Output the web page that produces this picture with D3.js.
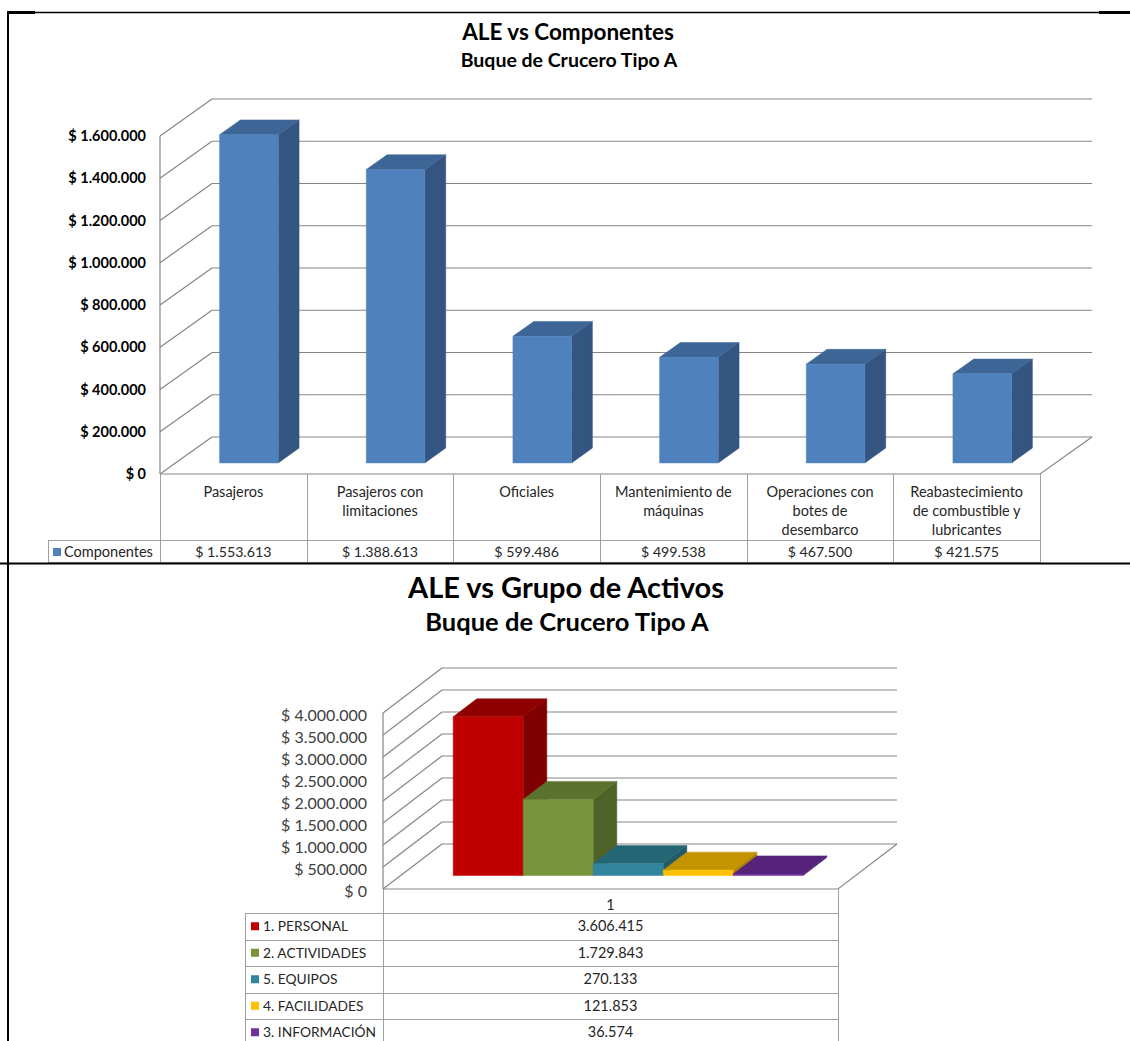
<!DOCTYPE html>
<html>
<head>
<meta charset="utf-8">
<script src="https://cdn.jsdelivr.net/npm/d3@7"></script>
<style>
  body { margin: 0; background: #fff; }
  svg { display: block; }
  text { font-family: Lato, "Open Sans", sans-serif; }
</style>
</head>
<body>
<svg id="page" width="1130" height="1041"></svg>
<script>
// ---- Chart 1: ALE por componente ----
const componentLabels = [
  ["Pasajeros"],
  ["Pasajeros con", "limitaciones"],
  ["Oficiales"],
  ["Mantenimiento de", "máquinas"],
  ["Operaciones con", "botes de", "desembarco"],
  ["Reabastecimiento", "de combustible y", "lubricantes"]
];
const componentValues = [1553613, 1388613, 599486, 499538, 467500, 421575];
const componentSeries = "Componentes";
const componentTicks = [0, 200000, 400000, 600000, 800000, 1000000, 1200000, 1400000, 1600000];

// ---- Chart 2: ALE por grupo de activos ----
const assetCategory = ["1"];
const assetGroups = ["1. PERSONAL", "2. ACTIVIDADES", "5. EQUIPOS", "4. FACILIDADES", "3. INFORMACIÓN"];
const assetValues = [3606415, 1729843, 270133, 121853, 36574];
const assetTicks = [0, 500000, 1000000, 1500000, 2000000, 2500000, 3000000, 3500000, 4000000];
const assetColors = [
  { front: "#c00000", side: "#7f0000", top: "#8f0000" },
  { front: "#77933c", side: "#4f6228", top: "#5b722f" },
  { front: "#31859c", side: "#215a69", top: "#256674" },
  { front: "#ffc000", side: "#b08400", top: "#c49300" },
  { front: "#7030a0", side: "#4b2070", top: "#55247a" }
];
const componentColor = { front: "#4f81bd", side: "#34557f", top: "#3d6596" };

const svg = d3.select("#page");
const es = d3.formatLocale({ decimal: ",", thousands: ".", grouping: [3], currency: ["$ ", ""] });
const money = es.format("$,.0f");
const plain = es.format(",.0f");

const GRID = "#868686";
const RULE = "#a0a0a0";
const INK = "#262626";
const NEAR = 0.3, FAR = 0.7;   // bar depth inside the floor

// oblique projection: front-plane x, value, depth (0 = front, 1 = back wall)
function projector(y, dx, dy) {
  return (xf, v, d) => [xf + d * dx, y(v) - d * dy];
}
const poly = pts => "M" + pts.map(p => p[0].toFixed(2) + "," + p[1].toFixed(2)).join("L") + "Z";

function drawBar(g, x0, x1, v, P, c) {
  const side = [P(x1, 0, NEAR), P(x1, 0, FAR), P(x1, v, FAR), P(x1, v, NEAR)];
  const top = [P(x0, v, NEAR), P(x1, v, NEAR), P(x1, v, FAR), P(x0, v, FAR)];
  const front = [P(x0, 0, NEAR), P(x1, 0, NEAR), P(x1, v, NEAR), P(x0, v, NEAR)];
  g.append("path").attr("d", poly(side)).attr("fill", c.side).attr("stroke", c.side).attr("stroke-width", 0.5);
  g.append("path").attr("d", poly(top)).attr("fill", c.top).attr("stroke", c.top).attr("stroke-width", 0.5);
  g.append("path").attr("d", poly(front)).attr("fill", c.front).attr("stroke", c.front).attr("stroke-width", 0.5);
}

function drawFrame(g, left, right, y, ticks, P) {
  const maxV = ticks[ticks.length - 1];
  // side wall grid
  g.selectAll("line.sidegrid").data(ticks).join("line").attr("class", "sidegrid")
    .attr("x1", t => P(left, t, 0)[0]).attr("y1", t => P(left, t, 0)[1])
    .attr("x2", t => P(left, t, 1)[0]).attr("y2", t => P(left, t, 1)[1])
    .attr("stroke", GRID).attr("stroke-width", 1.2);
  // back wall grid
  g.selectAll("line.backgrid").data(ticks).join("line").attr("class", "backgrid")
    .attr("x1", t => P(left, t, 1)[0]).attr("y1", t => P(left, t, 1)[1])
    .attr("x2", t => P(right, t, 1)[0]).attr("y2", t => P(right, t, 1)[1])
    .attr("stroke", GRID).attr("stroke-width", 1.2);
  // value axis on the front edge of the side wall
  g.append("line")
    .attr("x1", P(left, maxV, 0)[0]).attr("y1", P(left, maxV, 0)[1])
    .attr("x2", P(left, 0, 0)[0]).attr("y2", P(left, 0, 0)[1])
    .attr("stroke", GRID).attr("stroke-width", 1.2);
  // floor outline (front and right edges)
  g.append("path")
    .attr("d", "M" + P(left, 0, 0).join(",") + "L" + P(right, 0, 0).join(",") + "L" + P(right, 0, 1).join(","))
    .attr("fill", "none").attr("stroke", GRID).attr("stroke-width", 1.2);
}

// ================= Chart 1 =================
{
  const left = 160, right = 1040, floorY = 474, topY = 136, DX = 52, DY = 37;
  const y = d3.scaleLinear().domain([0, 1600000]).range([floorY, topY]);
  const P = projector(y, DX, DY);
  const idx = d3.range(componentValues.length);
  const cell = d3.scaleBand().domain(idx).range([left, right]);
  const x = d3.scaleBand().domain(idx).range([left, right]).paddingInner(0.6).paddingOuter(0.3);
  const g = svg.append("g");

  g.append("text").attr("x", 568).attr("y", 40).attr("text-anchor", "middle")
    .attr("font-size", 22.5).attr("font-weight", 700).attr("fill", "#000").text("ALE vs Componentes");
  g.append("text").attr("x", 569).attr("y", 67).attr("text-anchor", "middle")
    .attr("font-size", 19.5).attr("font-weight", 700).attr("fill", "#000").text("Buque de Crucero Tipo A");

  drawFrame(g, left, right, y, componentTicks, P);

  g.selectAll("text.tick").data(componentTicks).join("text").attr("class", "tick")
    .attr("x", 146).attr("y", t => y(t)).attr("dy", "0.35em").attr("text-anchor", "end")
    .attr("font-size", 14.5).attr("font-weight", 700).attr("fill", "#000").text(t => money(t));

  idx.forEach(i => drawBar(g, x(i), x(i) + x.bandwidth(), componentValues[i], P, componentColor));

  // data table
  const tbl = g.append("g").attr("stroke", RULE).attr("stroke-width", 1);
  tbl.append("line").attr("x1", 48).attr("x2", right).attr("y1", 540.5).attr("y2", 540.5);
  tbl.append("line").attr("x1", 48).attr("x2", right).attr("y1", 562.5).attr("y2", 562.5);
  tbl.append("line").attr("x1", 48.5).attr("x2", 48.5).attr("y1", 540.5).attr("y2", 563);
  tbl.selectAll("line.col").data(idx.map(i => cell(i)).concat([right])).join("line").attr("class", "col")
    .attr("x1", d => Math.round(d) + 0.5).attr("x2", d => Math.round(d) + 0.5)
    .attr("y1", floorY).attr("y2", 563);

  idx.forEach(i => {
    const cx = cell(i) + cell.bandwidth() / 2;
    g.append("text").attr("x", cx).attr("y", 497).attr("text-anchor", "middle")
      .attr("font-size", 14.5).attr("fill", INK)
      .selectAll("tspan").data(componentLabels[i]).join("tspan")
      .attr("x", cx).attr("dy", (d, k) => k === 0 ? 0 : 19).text(d => d);
    g.append("text").attr("x", cx).attr("y", 557).attr("text-anchor", "middle")
      .attr("font-size", 14.2).attr("fill", INK).text(money(componentValues[i]));
  });
  g.append("rect").attr("x", 53).attr("y", 548).attr("width", 8).attr("height", 8).attr("fill", componentColor.front);
  g.append("text").attr("x", 64).attr("y", 557).attr("font-size", 14.5).attr("fill", INK).text(componentSeries);
}

// ================= Chart 2 =================
{
  const left = 383, right = 838, floorY = 889, topY = 713, DX = 59, DY = 45;
  const y = d3.scaleLinear().domain([0, 4000000]).range([floorY, topY]);
  const P = projector(y, DX, DY);
  const x0 = d3.scaleBand().domain(assetCategory).range([left, right]);
  const cluster = x0.bandwidth() / 1.3;              // 30 % gap around the cluster
  const start = x0(assetCategory[0]) + (x0.bandwidth() - cluster) / 2;
  const x1 = d3.scaleBand().domain(assetGroups).range([start, start + cluster]);
  const g = svg.append("g");

  g.append("text").attr("x", 566).attr("y", 598).attr("text-anchor", "middle")
    .attr("font-size", 29).attr("font-weight", 700).attr("fill", "#000").text("ALE vs Grupo de Activos");
  g.append("text").attr("x", 567).attr("y", 631).attr("text-anchor", "middle")
    .attr("font-size", 25.5).attr("font-weight", 700).attr("fill", "#000").text("Buque de Crucero Tipo A");

  drawFrame(g, left, right, y, assetTicks, P);

  g.selectAll("text.tick").data(assetTicks).join("text").attr("class", "tick")
    .attr("x", 367).attr("y", t => y(t) + 2).attr("dy", "0.35em").attr("text-anchor", "end")
    .attr("font-size", 16).attr("fill", "#404040").text(t => money(t));

  assetGroups.forEach((k, i) => drawBar(g, x1(k), x1(k) + x1.bandwidth(), assetValues[i], P, assetColors[i]));

  // data table
  const rowTop = 913, rowH = 26.5, legendLeft = 245;
  const rows = assetGroups.map((k, i) => rowTop + i * rowH);
  const tbl = g.append("g").attr("stroke", RULE).attr("stroke-width", 1);
  tbl.selectAll("line.row").data(rows.concat([rowTop + assetGroups.length * rowH])).join("line").attr("class", "row")
    .attr("x1", legendLeft).attr("x2", right).attr("y1", d => Math.round(d) + 0.5).attr("y2", d => Math.round(d) + 0.5);
  tbl.append("line").attr("x1", legendLeft + 0.5).attr("x2", legendLeft + 0.5).attr("y1", rowTop).attr("y2", 1041);
  tbl.append("line").attr("x1", left + 0.5).attr("x2", left + 0.5).attr("y1", floorY).attr("y2", 1041);
  tbl.append("line").attr("x1", right + 0.5).attr("x2", right + 0.5).attr("y1", floorY).attr("y2", 1041);

  const mid = x0(assetCategory[0]) + x0.bandwidth() / 2;
  g.append("text").attr("x", mid).attr("y", 910).attr("text-anchor", "middle")
    .attr("font-size", 14.5).attr("fill", INK).text(assetCategory[0]);
  assetGroups.forEach((k, i) => {
    const cy = rows[i] + rowH / 2;
    g.append("rect").attr("x", 251).attr("y", cy - 4).attr("width", 8).attr("height", 8).attr("fill", assetColors[i].front);
    g.append("text").attr("x", 263).attr("y", cy).attr("dy", "0.35em")
      .attr("font-size", 13.8).attr("fill", INK).text(k);
    g.append("text").attr("x", mid).attr("y", cy).attr("dy", "0.35em").attr("text-anchor", "middle")
      .attr("font-size", 14.5).attr("fill", INK).text(plain(assetValues[i]));
  });
}

// ---- page rules around the two charts ----
const frame = svg.append("g").attr("stroke", "#000");
frame.append("line").attr("x1", 7).attr("x2", 1130).attr("y1", 12.5).attr("y2", 12.5).attr("stroke-width", 1.5);
frame.append("line").attr("x1", 1099).attr("x2", 1130).attr("y1", 12.5).attr("y2", 12.5).attr("stroke-width", 3);
frame.append("line").attr("x1", 7).attr("x2", 35).attr("y1", 12.5).attr("y2", 12.5).attr("stroke-width", 3);
frame.append("line").attr("x1", 8).attr("x2", 8).attr("y1", 11).attr("y2", 1041).attr("stroke-width", 2);
frame.append("line").attr("x1", 0).attr("x2", 1130).attr("y1", 563.5).attr("y2", 563.5).attr("stroke-width", 2);
</script>
</body>
</html>
